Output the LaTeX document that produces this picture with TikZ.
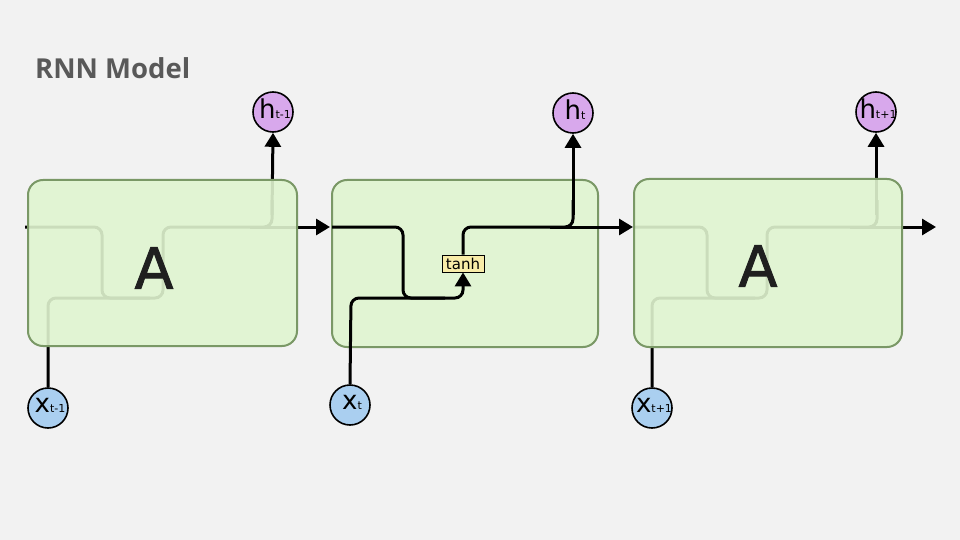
\documentclass[tikz,border=0pt]{standalone}
\usepackage{fontspec}
\setmainfont{DejaVu Sans}
\newfontfamily\titlefont{Open Sans}
\newfontfamily\Afont[FakeBold=1.6]{DejaVu Sans}
\usetikzlibrary{arrows.meta}
\definecolor{bgc}{RGB}{242,242,242}
\definecolor{boxfill}{RGB}{224,245,208}
\definecolor{boxline}{RGB}{122,152,102}
\definecolor{hcol}{RGB}{216,168,236}
\definecolor{xcol}{RGB}{170,207,240}
\definecolor{tanhcol}{RGB}{248,236,168}
\definecolor{titlecol}{RGB}{89,89,89}
\newcommand\circlab[2]{{\fontsize{26}{26}\selectfont #1}{\fontsize{11}{11}\selectfont #2}}
\begin{document}
\begin{tikzpicture}[x=1pt,y=-1pt,
  wire/.style={line width=3pt, rounded corners=8pt, line cap=butt},
  arr/.style={-{Triangle[length=14pt,width=16pt]}},
  cell/.style={draw=boxline, line width=2pt, fill=boxfill, fill opacity=0.9, rounded corners=15pt},
  hcirc/.style={circle, draw=black, line width=1.6pt, fill=hcol, minimum size=40pt, inner sep=0pt},
  xcirc/.style={circle, draw=black, line width=1.6pt, fill=xcol, minimum size=40pt, inner sep=0pt},
  lbl/.style={inner sep=0pt, xshift=2pt, yshift=3pt},
  bigA/.style={font=\Afont\fontsize{57}{57}\selectfont, text=black!88},
  tanhbox/.style={draw=black, line width=0.8pt, fill=tanhcol, minimum width=42pt, minimum height=17pt, inner sep=0pt, font=\fontsize{15}{15}\selectfont}
]
\fill[bgc] (0,0) rectangle (960,540);
\useasboundingbox (0,0) rectangle (960,540);

\node[anchor=base west, inner sep=0pt, text=titlecol, font=\titlefont\bfseries\fontsize{27.5}{27.5}\selectfont] (title) at (35,79) {RNN Model};

% circles
\node[hcirc] (h1) at (273,112) {};
\node[hcirc] (h2) at (573,113) {};
\node[hcirc] (h3) at (876,112) {};
\node[xcirc] (x1) at (48,408) {};
\node[xcirc] (x2) at (350,405) {};
\node[xcirc] (x3) at (652,408) {};
\node[lbl] (h1l) at (h1) {\circlab{h}{t-1}};
\node[lbl] (h2l) at (h2) {\circlab{h}{t}};
\node[lbl] (h3l) at (h3) {\circlab{h}{t+1}};
\node[lbl] (x1l) at (x1) {\circlab{x}{t-1}};
\node[lbl] (x2l) at (x2) {\circlab{x}{t}};
\node[lbl] (x3l) at (x3) {\circlab{x}{t+1}};

% coordinates
\coordinate (in1) at (25,227);
\coordinate (out1) at (330,227);
\coordinate (out2) at (633,227);
\coordinate (out3) at (936,227);

% hidden wires of cell 1
\draw[wire] (in1) -- (102,227) -- (102,298) -- (150,298);
\draw[wire] (x1.north) -- (48,298) -- (163,298) -- (163,227) -- (272,227) -- (272,200);
\draw[wire,arr] (272,215) -- (h1.south);
\draw[wire,arr] (250,227) -- (out1);

% hidden wires of cell 3
\draw[wire] (634,227) -- (707,227) -- (707,298) -- (755,298);
\draw[wire] (x3.north) -- (652,298) -- (767,298) -- (767,227) -- (877,227) -- (877,200);
\draw[wire,arr] (876,215) -- (h3.south);
\draw[wire,arr] (850,227) -- (out3);

% cells
\draw[cell] (28,180) rectangle (297,346);
\draw[cell] (332,180) rectangle (598,347);
\draw[cell] (634,179) rectangle (902,347);
\node[bigA] (A1t) at (154,268) {A};
\node[bigA] (A3t) at (758,266) {A};

% cell 2 wires
\node[tanhbox] (tanh) at (463,263.5) {tanh};
\draw[wire] (332,227) -- (403,227) -- (403,298) -- (445,298);
\draw[wire,arr] (x2.north) -- (351,298) -- (463,298) -- (tanh.south);
\draw[wire] (tanh.north) -- (463,227) -- (573,227) -- (573,200);
\draw[wire,arr] (573,215) -- (h2.south);
\draw[wire,arr] (550,227) -- (out2);
\end{tikzpicture}
\end{document}
